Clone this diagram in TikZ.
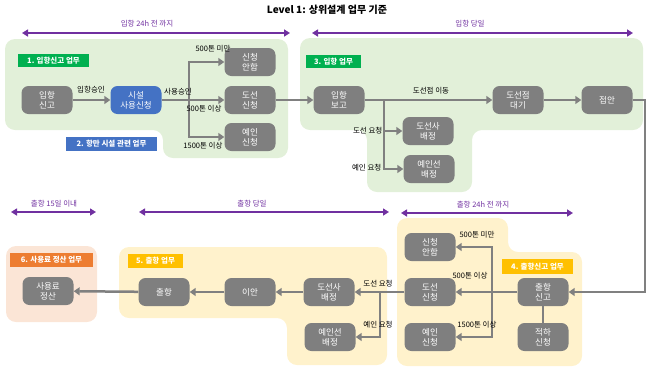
\documentclass[tikz,border=0pt]{standalone}
\usepackage{fontspec}
\setmainfont{Noto Sans CJK KR}
\usetikzlibrary{arrows.meta}
\definecolor{nodegray}{HTML}{7F7F7F}
\definecolor{linegray}{HTML}{808080}
\definecolor{grnbg}{HTML}{E2F0D9}
\definecolor{yelbg}{HTML}{FFF2CC}
\definecolor{orgbg}{HTML}{FBE5D6}
\definecolor{purp}{HTML}{7030A0}
\definecolor{grn}{HTML}{00B050}
\definecolor{blu}{HTML}{4472C4}
\definecolor{yel}{HTML}{FFC000}
\definecolor{org}{HTML}{ED7D31}
\tikzset{
  box/.style={rounded corners=7pt, fill=nodegray, text=white, minimum width=51pt, minimum height=28pt, inner sep=1pt, align=center, font=\fontsize{8.5}{10}\selectfont},
  tag/.style={text=white, font=\bfseries\fontsize{7.5}{8}\selectfont, inner sep=1pt, minimum height=14pt},
  lbl/.style={font=\fontsize{7.5}{9}\selectfont, inner sep=0.5pt},
  plbl/.style={font=\fontsize{7.5}{9}\selectfont, inner sep=0.5pt, text=purp},
  flow/.style={draw=linegray, line width=2.5pt, -{Triangle[width=8pt,length=6pt]}},
  plain/.style={draw=linegray, line width=2.5pt},
  spanarrow/.style={draw=purp, line width=2pt, {Triangle[width=7pt,length=6pt]}-{Triangle[width=7pt,length=6pt]}},
  region/.style={rounded corners=10pt}
}
\begin{document}
\begin{tikzpicture}[x=1pt,y=-1pt]
\useasboundingbox (0,0) rectangle (648,368);
% title
\node[font=\bfseries\fontsize{10}{12}\selectfont] (title) at (327,10) {Level 1: 상위설계 업무 기준};
% regions
\fill[grnbg, region] (5,39) -- (288,39) -- (288,158) -- (163,158) -- (163,130) -- (5,130) -- cycle;
\fill[grnbg, region] (300,38) -- (643,38) -- (643,130) -- (472,130) -- (472,192) -- (367,192) -- (367,130) -- (300,130) -- cycle;
\fill[orgbg, region] (6,246) rectangle (97,322);
\fill[yelbg, region] (119,247) -- (387,247) -- (387,365) -- (287,365) -- (287,318) -- (119,318) -- cycle;
\fill[yelbg, region] (397,218) -- (508,218) -- (508,252) -- (582,252) -- (582,366) -- (397,366) -- cycle;
% spans
\coordinate (s1a) at (22,33); \coordinate (s1b) at (290,33);
\draw[spanarrow] (s1a) -- (s1b);
\node[plbl] (s1l) at (147,24) {입항 24h 전 까지};
\coordinate (s2a) at (312,33); \coordinate (s2b) at (633,33);
\draw[spanarrow] (s2a) -- (s2b);
\node[plbl] (s2l) at (470,24) {입항 당일};
\coordinate (s3a) at (11,212); \coordinate (s3b) at (96,212);
\draw[spanarrow] (s3a) -- (s3b);
\node[plbl] (s3l) at (54,204) {출항 15일 이내};
\coordinate (s4a) at (139,212); \coordinate (s4b) at (389,212);
\draw[spanarrow] (s4a) -- (s4b);
\node[plbl] (s4l) at (252,204) {출항 당일};
\coordinate (s5a) at (401,213); \coordinate (s5b) at (573,213);
\draw[spanarrow] (s5a) -- (s5b);
\node[plbl] (s5l) at (483,205) {출항 24h 전 까지};
% tags
\node[tag, fill=grn, minimum width=71pt, minimum height=13pt] (t1) at (53.5,60.5) {1. 입항신고 업무};
\node[tag, fill=blu, minimum width=91pt] (t2) at (111.5,144) {2. 항만 시설 관련 업무};
\node[tag, fill=grn, minimum width=55pt, minimum height=13pt] (t3) at (333.5,61.5) {3. 입항 업무};
\node[tag, fill=org, minimum width=83pt] (t6) at (51.5,260) {6. 사용료 정산 업무};
\node[tag, fill=yel, minimum width=55pt] (t5) at (155.5,261) {5. 출항 업무};
\node[tag, fill=yel, minimum width=71pt, minimum height=15pt] (t4) at (537.5,266.5) {4. 출항신고 업무};
% top nodes
\node[box] (ip) at (47,100) {입항\\신고};
\node[box, fill=blu] (sis) at (136,100) {시설\\사용신청};
\node[box] (an1) at (250,62) {신청\\안함};
\node[box] (ds1) at (250,100) {도선\\신청};
\node[box] (ye1) at (250,137) {예인\\신청};
\node[box] (ib) at (339,100) {입항\\보고};
\node[box] (dj) at (518,100) {도선점\\대기};
\node[box] (ja) at (607,100) {접안};
\node[box] (dsb1) at (428,131) {도선사\\배정};
\node[box] (yeb1) at (429,169) {예인선\\배정};
% bottom nodes
\node[box] (sy) at (48,291) {사용료\\정산};
\node[box] (ch) at (164,292) {출항};
\node[box] (ia) at (250,292) {이안};
\node[box] (dsb2) at (329,292) {도선사\\배정};
\node[box] (yeb2) at (330,337) {예인선\\배정};
\node[box] (an2) at (430,247) {신청\\안함};
\node[box] (ds2) at (430,292) {도선\\신청};
\node[box] (ye2) at (430,337) {예인\\신청};
\node[box] (chs) at (543,292) {출항\\신고};
\node[box] (jh) at (543,337) {적하\\신청};
% top connectors
\draw[flow] (ip) -- (sis);
\node[lbl] (l1) at (91,90) {입항승인};
\coordinate (b1) at (189,100);
\draw[flow] (sis) -- (ds1);
\draw[flow] (b1) |- (an1.west);
\draw[flow] (b1) |- (ye1.west);
\node[lbl] (l2) at (178,92) {사용승인};
\node[lbl] (l3) at (213,49) {500톤 미만};
\node[lbl] (l4) at (204,109) {500톤 이상};
\node[lbl] (l5) at (203,146) {1500톤 이상};
\draw[flow] (ds1) -- (ib);
\draw[flow] (ib) -- (dj);
\node[lbl] (l6) at (431,91) {도선점 이동};
\coordinate (b2) at (384,100);
\draw[flow] (b2) |- (dsb1.west);
\draw[flow] (b2) |- (yeb1.west);
\node[lbl, anchor=east] (l7) at (383,131) {도선 요청};
\node[lbl, anchor=east] (l8) at (382,168) {예인 요청};
\draw[flow] (dj) -- (ja);
\coordinate (r1) at (645,100);
\coordinate (r2) at (645,292);
\draw[flow] (ja.east) -- (r1) -- (r2) -- (chs.east);
% bottom connectors
\draw[flow] (chs) -- (ds2);
\coordinate (b3) at (492,292);
\draw[flow] (b3) |- (an2.east);
\draw[flow] (b3) |- (ye2.east);
\node[lbl] (l9) at (477,235) {500톤 미만};
\node[lbl] (l10) at (470,276) {500톤 이상};
\node[lbl] (l11) at (477,325) {1500톤 이상};
\draw[plain] (chs) -- (jh);
\draw[flow] (ds2) -- (dsb2);
\node[lbl] (l12) at (378,284) {도선 요청};
\coordinate (b4) at (380,292);
\draw[flow] (b4) |- (yeb2.east);
\node[lbl] (l13) at (378,325) {예인 요청};
\draw[flow] (dsb2) -- (ia);
\draw[flow] (ia) -- (ch);
\draw[flow] (ch) -- (sy);
\end{tikzpicture}
\end{document}
